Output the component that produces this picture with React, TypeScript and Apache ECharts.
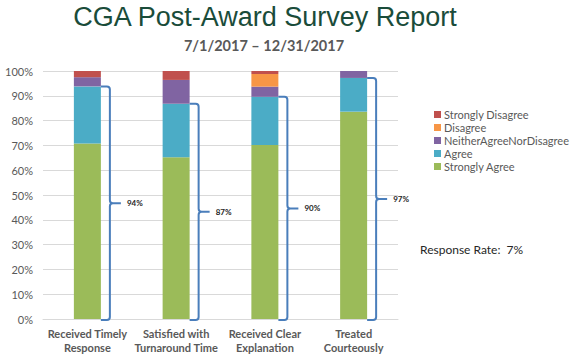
import React, { useEffect, useRef } from "react";
import * as echarts from "echarts";

const categories = [
  "Received Timely\nResponse",
  "Satisfied with\nTurnaround Time",
  "Received Clear\nExplanation",
  "Treated\nCourteously",
];
const stronglyAgree = [70.8, 65.2, 70.2, 83.6];
const agree = [23.0, 21.6, 19.4, 13.6];
const neither = [3.7, 9.6, 4.1, 2.8];
const disagree = [0, 0, 5.1, 0];
const stronglyDisagree = [2.5, 3.6, 1.2, 0];
const yTicks = [0, 10, 20, 30, 40, 50, 60, 70, 80, 90, 100];
const responseRate = "7%";

const FONT = "Lato, 'Open Sans', sans-serif";
const GRAY = "#595959";
const BRACE = "#4a7ebb";

export default function App() {
  const ref = useRef<HTMLDivElement>(null);
  useEffect(() => {
    if (!ref.current) return;
    const chart = echarts.init(ref.current, null, { renderer: "svg" });
    const totals = stronglyAgree.map((v, i) => v + agree[i]);
    const barWidth = 27;
    const mkBar = (name: string, data: number[], color: string) => ({
      name,
      type: "bar",
      stack: "s",
      data,
      barWidth,
      itemStyle: { color },
    });
    chart.setOption({
      animation: false,
      textStyle: { fontFamily: FONT },
      grid: { left: 43, right: 177, top: 71, bottom: 42 },
      legend: {
        data: ["Strongly Disagree", "Disagree", "NeitherAgreeNorDisagree", "Agree", "Strongly Agree"],
        orient: "vertical",
        left: 434,
        top: 109,
        padding: 0,
        itemWidth: 7,
        itemHeight: 7,
        itemGap: 2,
        icon: "rect",
        textStyle: { color: GRAY, fontSize: 11, fontFamily: FONT, padding: [0, 0, 0, -2] },
      },
      xAxis: {
        type: "category",
        data: categories,
        axisLine: { show: true, lineStyle: { color: "#d9d9d9" } },
        axisTick: { show: false },
        axisLabel: {
          color: GRAY,
          fontWeight: "bold",
          fontSize: 11,
          lineHeight: 14,
          margin: 7,
          fontFamily: FONT,
          interval: 0,
        },
      },
      yAxis: {
        type: "value",
        min: yTicks[0],
        max: yTicks[yTicks.length - 1],
        interval: 10,
        axisLine: { show: false },
        axisTick: { show: false },
        splitLine: { lineStyle: { color: "#d9d9d9" } },
        axisLabel: { color: GRAY, fontSize: 11, margin: 10, formatter: "{value}%", fontFamily: FONT },
      },
      series: [
        mkBar("Strongly Agree", stronglyAgree, "#9bbb59"),
        mkBar("Agree", agree, "#4bacc6"),
        mkBar("NeitherAgreeNorDisagree", neither, "#8064a2"),
        mkBar("Disagree", disagree, "#f79646"),
        mkBar("Strongly Disagree", stronglyDisagree, "#c0504d"),
        {
          type: "custom",
          name: "brace",
          z: 10,
          clip: false,
          data: totals.map((t, i) => [i, t]),
          renderItem: (params: any, api: any) => {
            const i = api.value(0);
            const t = api.value(1);
            const top = api.coord([i, t]);
            const bot = api.coord([i, 0]);
            const x0 = top[0] + barWidth / 2;
            const yTop = top[1];
            const yBot = bot[1] + 1;
            const yMid = (yTop + yBot) / 2;
            const xv = x0 + 9;
            const xt = x0 + 20;
            const r = 3;
            const d =
              `M${x0} ${yTop} L${xv - r} ${yTop} Q${xv} ${yTop} ${xv} ${yTop + r} ` +
              `L${xv} ${yMid - r} Q${xv} ${yMid} ${xv + r} ${yMid} L${xt} ${yMid} ` +
              `M${xv + r} ${yMid} Q${xv} ${yMid} ${xv} ${yMid + r} ` +
              `L${xv} ${yBot - r} Q${xv} ${yBot} ${xv - r} ${yBot} L${x0} ${yBot}`;
            return {
              type: "group",
              children: [
                {
                  type: "path",
                  shape: { pathData: d },
                  style: { fill: "none", stroke: BRACE, lineWidth: 2 },
                },
                {
                  type: "text",
                  style: {
                    text: Math.round(t) + "%",
                    x: x0 + 26,
                    y: yMid,
                    textAlign: "left",
                    textVerticalAlign: "middle",
                    fill: "#262626",
                    fontSize: 8,
                    fontWeight: "bold",
                    fontFamily: FONT,
                  },
                },
              ],
            };
          },
        },
      ],
      graphic: [
        {
          type: "text",
          style: {
            text: "CGA Post-Award Survey Report",
            x: 265,
            y: 17,
            textAlign: "center",
            textVerticalAlign: "middle",
            fill: "#1a4c3a",
            fontSize: 27,
            fontFamily: "'Liberation Sans', Arial, sans-serif",
          },
        },
        {
          type: "text",
          style: {
            text: "7/1/2017 \u2013 12/31/2017",
            x: 264,
            y: 45,
            textAlign: "center",
            textVerticalAlign: "middle",
            fill: GRAY,
            fontSize: 14.5,
            fontWeight: "bold",
            fontFamily: FONT,
          },
        },
        {
          type: "text",
          style: {
            text: "Response Rate:  " + responseRate,
            x: 420,
            y: 249,
            textAlign: "left",
            textVerticalAlign: "middle",
            fill: "#262626",
            fontSize: 12,
            fontFamily: FONT,
          },
        },
      ],
    });
    return () => chart.dispose();
  }, []);
  return <div ref={ref} style={{ width: 575, height: 361, position: "absolute", left: 0, top: 0 }} />;
}
